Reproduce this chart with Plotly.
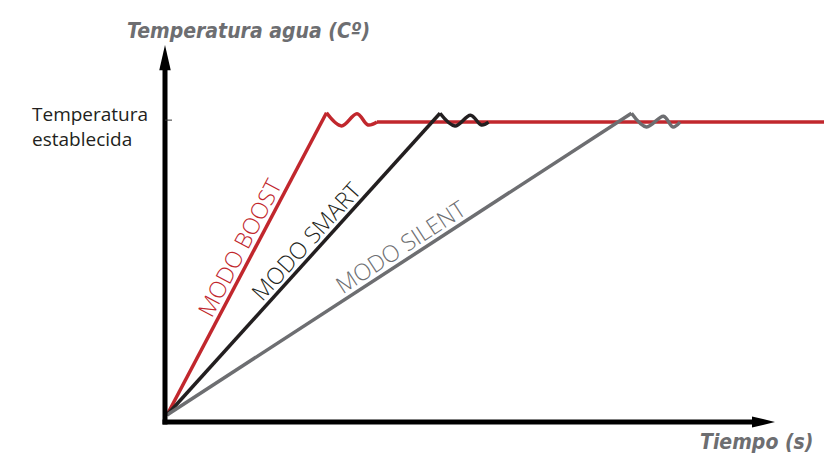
import math
import plotly.graph_objects as go

# Heating curves: time (s) vs water temperature (°C)
boost_t = [0, 31.9, 34.9, 38.0, 40.2, 42.0, 131.4]
boost_T = [0, 61.9, 59.2, 61.7, 59.4, 60.0, 60.0]

smart_t = [0, 54.6, 57.6, 60.7, 62.9, 64.3]
smart_T = [0, 61.8, 59.2, 61.4, 59.4, 60.0]

silent_t = [0, 92.9, 95.9, 99.3, 101.2, 102.6]
silent_T = [0, 61.8, 59.0, 61.2, 59.0, 60.0]

set_temp = 60
set_label = "Temperatura<br>establecida"
mode_names = ["MODO BOOST", "MODO SMART", "MODO SILENT"]

RED = "#c1272d"
DARK = "#231f20"
GREY = "#6d6e71"
colors = [RED, DARK, GREY]

W, H = 824, 457
X_RANGE = [-33.4, 131.4]
Y_RANGE = [-8.6, 85.0]
px_per_x = W / (X_RANGE[1] - X_RANGE[0])
px_per_y = H / (Y_RANGE[1] - Y_RANGE[0])

series = [(boost_t, boost_T), (smart_t, smart_T), (silent_t, silent_T)]

fig = go.Figure()
for (t, T), c in zip(series, colors):
    # straight ramp, rounded overshoot ripples, then a flat hold
    parts = [(t[:2], T[:2], "linear"), (t[1:6], T[1:6], "spline"), (t[5:], T[5:], "linear")]
    for pt, pT, shape in parts:
        if len(pt) < 2:
            continue
        fig.add_trace(go.Scatter(
            x=pt, y=pT, mode="lines",
            line=dict(color=c, width=3.5, shape=shape, smoothing=1.0),
            hoverinfo="skip", showlegend=False,
        ))

# axes with arrow heads
ax_x0, ax_y0 = -0.4, -1.43
fig.add_shape(type="line", x0=ax_x0, y0=ax_y0 - 0.5, x1=ax_x0, y1=71.0,
              line=dict(color="black", width=5))
fig.add_shape(type="line", x0=ax_x0 - 0.5, y0=ax_y0, x1=117.5, y1=ax_y0,
              line=dict(color="black", width=5))
fig.add_shape(type="path",
              path=f"M {ax_x0 - 1.15},70.6 L {ax_x0},75.8 L {ax_x0 + 1.15},70.6 Z",
              fillcolor="black", line=dict(color="black", width=0))
fig.add_shape(type="path",
              path=f"M 117.0,{ax_y0 + 1.15} L 121.6,{ax_y0} L 117.0,{ax_y0 - 1.15} Z",
              fillcolor="black", line=dict(color="black", width=0))
# set-point tick
fig.add_shape(type="line", x0=ax_x0, y0=set_temp + 0.4, x1=1.0, y1=set_temp + 0.4,
              line=dict(color="#333333", width=1))

title_font = dict(family="DejaVu Sans, sans-serif",
                  size=21, color=GREY, weight="bold", style="italic")


def condensed(s):
    return f'<span style="font-stretch:condensed">{s}</span>'


fig.add_annotation(x=249 / W, y=1 - 31 / H, xref="paper", yref="paper",
                   text=condensed("Temperatura agua (Cº)"), showarrow=False,
                   xanchor="center", yanchor="middle", font=title_font)
fig.add_annotation(x=815 / W, y=1 - 442 / H, xref="paper", yref="paper",
                   text=condensed("Tiempo (s)"), showarrow=False,
                   xanchor="right", yanchor="middle", font=title_font)

fig.add_annotation(x=30 / W, y=set_temp - 1.0, xref="paper", yref="y",
                   text=set_label, showarrow=False, align="left",
                   xanchor="left", yanchor="middle",
                   font=dict(family="Open Sans, sans-serif", size=19, color="#231f20"))

# mode labels sit just above each rising segment, rotated along it
label_frac = [0.53, 0.546, 0.52]
label_gap = 14
for name, (t, T), c, f in zip(mode_names, series, colors, label_frac):
    dx, dy = t[1] * px_per_x, T[1] * px_per_y
    ang = math.atan2(dy, dx)
    fig.add_annotation(
        x=t[1] * f, y=T[1] * f, text=name, showarrow=False,
        textangle=-math.degrees(ang),
        xshift=-label_gap * math.sin(ang), yshift=label_gap * math.cos(ang),
        xanchor="center", yanchor="middle",
        font=dict(family="Open Sans, sans-serif", size=23, color=c, weight=300),
    )

fig.update_xaxes(range=X_RANGE, visible=False, fixedrange=True)
fig.update_yaxes(range=Y_RANGE, visible=False, fixedrange=True)
fig.update_layout(
    width=W, height=H,
    margin=dict(l=0, r=0, t=0, b=0),
    paper_bgcolor="white", plot_bgcolor="white",
    hovermode=False,
)

fig.write_html("out.html", include_plotlyjs=True, config={"displayModeBar": False})
